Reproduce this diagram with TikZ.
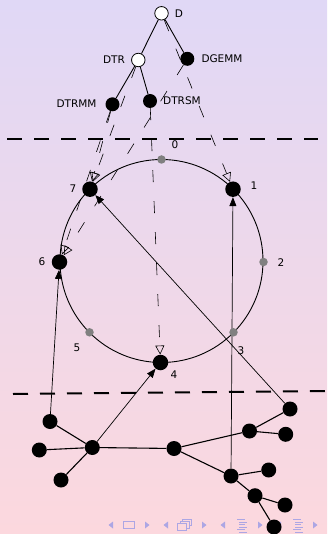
\documentclass[tikz,border=0pt]{standalone}
\usepackage{fontspec}
\setmainfont{DejaVu Sans}
\usetikzlibrary{arrows.meta}
\pgfdeclarelayer{bg}
\pgfsetlayers{bg,main}
\definecolor{topc}{RGB}{224,216,246}
\definecolor{botc}{RGB}{252,216,222}
\definecolor{navc}{RGB}{172,166,228}
\definecolor{grayn}{RGB}{128,128,128}
\begin{document}
\begin{tikzpicture}[x=1pt,y=-1pt,
  tnode/.style={circle,draw=black,fill=white,minimum size=13.5pt,inner sep=0pt,line width=0.8pt},
  bnode/.style={circle,fill=black,minimum size=14pt,inner sep=0pt},
  rnode/.style={circle,fill=black,minimum size=15.5pt,inner sep=0pt},
  gnode/.style={circle,fill=grayn,minimum size=8.5pt,inner sep=0pt},
  netnode/.style={circle,fill=black,minimum size=15pt,inner sep=0pt},
  lbl/.style={font=\fontsize{10.5}{12}\selectfont,inner sep=0pt},
  tedge/.style={line width=0.9pt},
  nedge/.style={line width=1.1pt},
  mapar/.style={line width=0.6pt,dash pattern=on 12pt off 19pt,-{Triangle[open,length=9pt,width=9pt]}},
  upar/.style={line width=0.7pt,-{Triangle[length=9pt,width=7pt]}},
  sepline/.style={line width=2pt,dash pattern=on 15pt off 12pt},
  navi/.style={fill=navc,draw=none},
  navl/.style={draw=navc,line width=0.8pt}]
\useasboundingbox (0,0) rectangle (327,534);

% tree
\node[tnode] (D) at (161.5,13.3) {};
\node[tnode] (DTR) at (138.3,60) {};
\node[bnode] (DGEMM) at (187.3,58.8) {};
\node[bnode] (DTRMM) at (112.5,104.3) {};
\node[bnode] (DTRSM) at (150,101) {};
\node[lbl] (lD) at (179,13.5) {D};
\node[lbl] (lDTR) at (114,60) {DTR};
\node[lbl] (lDGEMM) at (222,58.5) {DGEMM};
\node[lbl] (lDTRMM) at (76.5,104) {DTRMM};
\node[lbl] (lDTRSM) at (182,101) {DTRSM};

% ring
\coordinate (rc) at (161.5,261);
\node[gnode] (r0) at (161.5,159.5) {};
\node[rnode] (r1) at (233,189.2) {};
\node[gnode] (r2) at (263.5,262) {};
\node[gnode] (r3) at (233.5,332.3) {};
\node[rnode] (r4) at (160.5,362.5) {};
\node[gnode] (r5) at (89.5,332.3) {};
\node[rnode] (r6) at (59.5,262) {};
\node[rnode] (r7) at (90,189.2) {};
\node[lbl] (l0) at (175,145) {0};
\node[lbl] (l1) at (254,186) {1};
\node[lbl] (l2) at (281,263) {2};
\node[lbl] (l3) at (241,351) {3};
\node[lbl] (l4) at (174,375) {4};
\node[lbl] (l5) at (77,348) {5};
\node[lbl] (l6) at (42,262) {6};
\node[lbl] (l7) at (73,189) {7};

% bottom network
\node[netnode] (nA) at (50,421.5) {};
\node[netnode] (nB) at (39.3,450) {};
\node[netnode] (nC) at (92.3,447.5) {};
\node[netnode] (nD) at (61,480) {};
\node[netnode] (nE) at (174,448.5) {};
\node[netnode] (nF) at (249.5,431) {};
\node[netnode] (nG) at (290,409) {};
\node[netnode] (nH) at (285.7,434.3) {};
\node[netnode] (nI) at (231,476) {};
\node[netnode] (nJ) at (268.7,470) {};
\node[netnode] (nK) at (255,495.7) {};
\node[netnode] (nL) at (285,505) {};
\node[netnode] (nM) at (274,527) {};

\begin{pgfonlayer}{bg}
\shade[top color=topc,bottom color=botc] (0,0) rectangle (327,534);
% navigation symbols
\fill[navi] (113,521.5) -- (113,528.5) -- (108.5,525) -- cycle;
\draw[navl] (123.5,521.5) rectangle (134.5,528.5);
\fill[navi] (145,521.5) -- (145,528.5) -- (149.5,525) -- cycle;
\fill[navi] (168,521.5) -- (168,528.5) -- (163.5,525) -- cycle;
\draw[navl] (177.5,523.5) rectangle (186.5,530.5);
\draw[navl] (180,523.5) -- (180,521) -- (189,521) -- (189,528) -- (186.5,528);
\draw[navl] (182.5,521) -- (182.5,519) -- (191.5,519) -- (191.5,525.5) -- (189,525.5);
\fill[navi] (202,521.5) -- (202,528.5) -- (206.5,525) -- cycle;
\fill[navi] (225,521.5) -- (225,528.5) -- (220.5,525) -- cycle;
\draw[navl] (237,519.5) -- (245,519.5) (239,522) -- (247,522) (239,524.5) -- (245,524.5) (239,527) -- (247,527) (237,529.5) -- (245,529.5) (239,532) -- (247,532);
\fill[navi] (258,521.5) -- (258,528.5) -- (262.5,525) -- cycle;
\fill[navi] (281,521.5) -- (281,528.5) -- (276.5,525) -- cycle;
\draw[navl] (293,519.5) -- (301,519.5) (295,522) -- (303,522) (295,524.5) -- (301,524.5) (295,527) -- (303,527) (293,529.5) -- (301,529.5) (295,532) -- (303,532);
\fill[navi] (313,521.5) -- (313,528.5) -- (317.5,525) -- cycle;

% separators
\coordinate (s1a) at (7,139);
\coordinate (s1b) at (318,139);
\coordinate (s2a) at (13,394);
\coordinate (s2b) at (327,391);
\draw[sepline] (s1a) -- (s1b);
\draw[sepline] (s2a) -- (s2b);

% ring circle
\draw[line width=0.9pt] (rc) circle[radius=101.5pt];

% tree edges
\draw[tedge] (D) -- (DTR);
\draw[tedge] (D) -- (DGEMM);
\draw[tedge] (DTR) -- (DTRMM);
\draw[tedge] (DTR) -- (DTRSM);

% mapping arrows
\draw[mapar] (D) -- (r1);
\draw[mapar] (DGEMM) -- (r6);
\draw[mapar] (DTR) -- (r7);
\draw[mapar] (DTRMM) -- (r7);
\draw[mapar] (DTRMM) -- (r6);
\draw[mapar] (DTRSM) -- (r4);

% network edges
\draw[nedge] (nA) -- (nC);
\draw[nedge] (nB) -- (nC);
\draw[nedge] (nD) -- (nC);
\draw[nedge] (nC) -- (nE);
\draw[nedge] (nE) -- (nF);
\draw[nedge] (nF) -- (nG);
\draw[nedge] (nF) -- (nH);
\draw[nedge] (nE) -- (nI);
\draw[nedge] (nI) -- (nJ);
\draw[nedge] (nI) -- (nK);
\draw[nedge] (nK) -- (nL);
\draw[nedge] (nK) -- (nM);

% up arrows
\draw[upar] (nA) -- (r6);
\draw[upar] (nC) -- (r4);
\draw[upar] (nI) -- (r1);
\draw[upar] (nG) -- (r7);
\end{pgfonlayer}
\end{tikzpicture}
\end{document}
